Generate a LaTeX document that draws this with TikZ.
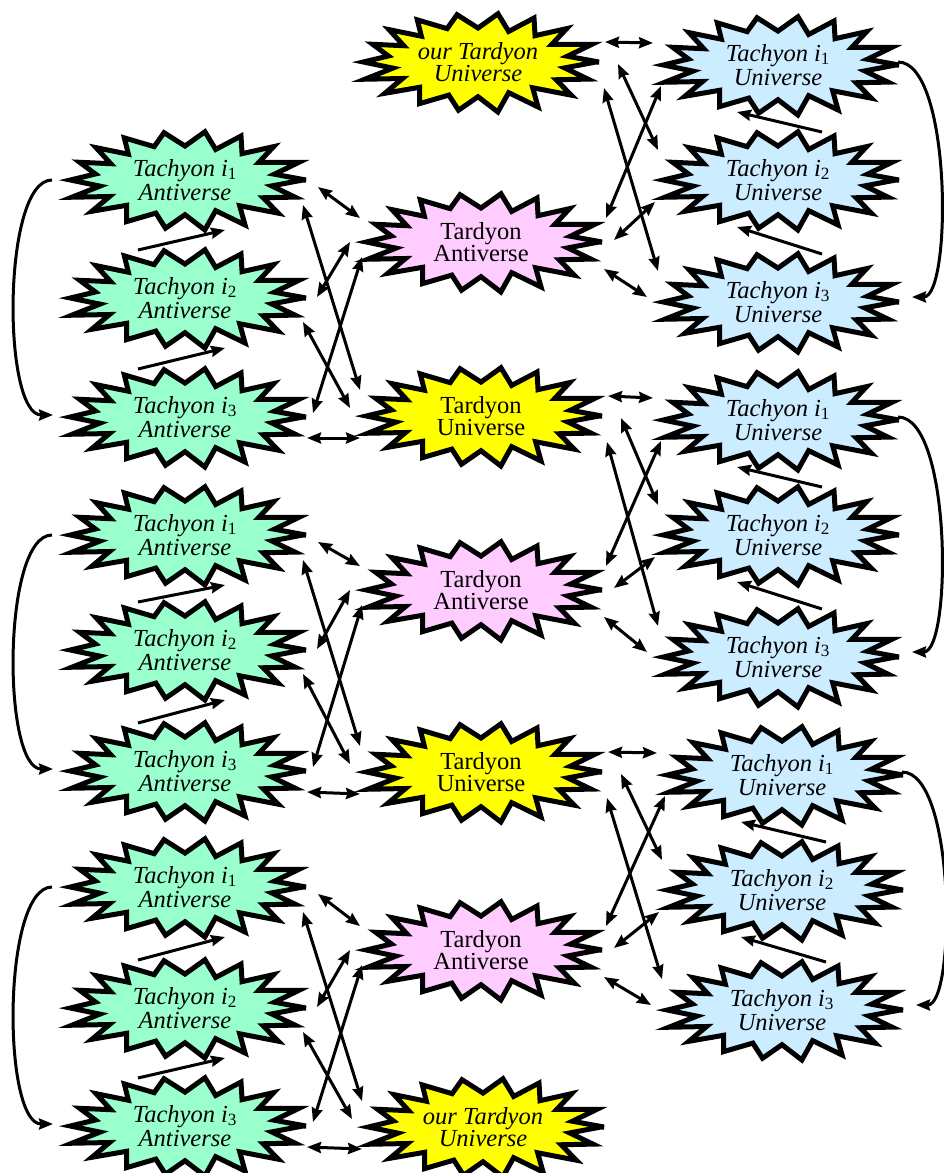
\documentclass[tikz,border=0pt]{standalone}
\usepackage{fontspec}
\setmainfont{Liberation Serif}
\usetikzlibrary{arrows.meta,calc}

\definecolor{tyellow}{RGB}{255,255,0}
\definecolor{tpink}{RGB}{255,204,255}
\definecolor{tblue}{RGB}{204,236,255}
\definecolor{tgreen}{RGB}{153,255,204}

\tikzset{
  burst/.style={draw=black, line width=5pt, line join=miter},
  label/.style={inner sep=0pt, align=center, font=\fontsize{24.5}{22}\selectfont},
  ilabel/.style={label, font=\fontsize{24.5}{22}\selectfont\itshape},
  tlabel/.style={label, font=\fontsize{24.5}{24.5}\selectfont\itshape},
  head/.tip={Stealth[length=14pt,width=11pt,inset=1.5pt]},
  link/.style={line width=3pt, head-head},
  flow/.style={line width=3pt, -head}
}
\newcommand{\sub}[1]{\textsubscript{\upshape #1}}
% explosion outline: 18 spikes between an outer and an inner ellipse
\newcommand{\explosion}[2]{%
  \filldraw[burst, fill=#2, shift={(#1)}] (0:118 and 49)
    \foreach \i in {0,...,17}{
      -- ({\i*20+10}:{88+3*sin(\i*131)} and {34+1.5*sin(\i*97)})
      -- ({\i*20+20}:{117+5*sin(\i*71)} and {50+2*sin(\i*53)})
    } -- cycle;}
% a labelled explosion: name, centre, fill, label style, text
\newcommand{\world}[5]{%
  \explosion{#2}{#3}
  \node[#4] (#1) at (#2) {#5};}

\begin{document}
\begin{tikzpicture}[x=1pt,y=-1pt]
\useasboundingbox[fill=white] (0,0) rectangle (944,1173);

% centre column: Tardyon universes and antiverses
\world{Y0}{478,62}{tyellow}{ilabel}{our Tardyon\\Universe}
\world{P0}{481,242}{tpink}{label}{Tardyon\\Antiverse}
\world{Y1}{481,416}{tyellow}{label}{Tardyon\\Universe}
\world{P1}{481,590}{tpink}{label}{Tardyon\\Antiverse}
\world{Y2}{481,772}{tyellow}{label}{Tardyon\\Universe}
\world{P2}{481,950}{tpink}{label}{Tardyon\\Antiverse}
\world{Y3}{483,1127}{tyellow}{ilabel}{our Tardyon\\Universe}

% right column: Tachyon universes
\foreach \k/\ya/\yb/\yc/\xx in {0/65/180/302/778, 1/420/535/657/778, 2/775/890/1010/782}{
  \world{B\k a}{\xx,\ya}{tblue}{tlabel}{Tachyon i\sub{1}\\Universe}
  \world{B\k b}{\xx,\yb}{tblue}{tlabel}{Tachyon i\sub{2}\\Universe}
  \world{B\k c}{\xx,\yc}{tblue}{tlabel}{Tachyon i\sub{3}\\Universe}
}

% left column: Tachyon antiverses
\foreach \k/\ya/\yb/\yc in {0/180/298/417, 1/535/650/771, 2/887/1008/1126}{
  \world{G\k a}{185,\ya}{tgreen}{tlabel}{Tachyon i\sub{1}\\Antiverse}
  \world{G\k b}{185,\yb}{tgreen}{tlabel}{Tachyon i\sub{2}\\Antiverse}
  \world{G\k c}{185,\yc}{tgreen}{tlabel}{Tachyon i\sub{3}\\Antiverse}
}

% links between a Tardyon pair and its Tachyon universes
\foreach \k in {0,1,2}{
  \draw[link] ($(Y\k)+(127,-20)$) -- ($(B\k a)+(-125,-22)$);
  \draw[link] ($(Y\k)+(140,2)$)   -- ($(B\k b)+(-120,-30)$);
  \draw[link] ($(Y\k)+(126,26)$)  -- ($(B\k c)+(-120,-31)$);
  \draw[link] ($(P\k)+(125,-24)$) -- ($(B\k a)+(-117,21)$);
  \draw[link] ($(P\k)+(133,-2)$)  -- ($(B\k b)+(-123,22)$);
  \draw[link] ($(P\k)+(123,27)$)  -- ($(B\k c)+(-131,-5)$);
  \draw[flow] ($(B\k b)+(44,-48)$) -- ($(B\k a)+(-41,47)$);
  \draw[flow] ($(B\k c)+(44,-48)$) -- ($(B\k b)+(-41,47)$);
  \draw[flow] ($(B\k a)+(120,-3)$) .. controls +(54,0) and +(40,0) .. ($(B\k c)+(134,-5)$);
}

% links between a Tardyon pair and its Tachyon antiverses
\foreach \k/\n in {0/1,1/2,2/3}{
  \draw[link] ($(G\k a)+(133,7)$)  -- ($(P\k)+(-121,-24)$);
  \draw[link] ($(G\k a)+(118,25)$) -- ($(Y\n)+(-121,-26)$);
  \draw[link] ($(G\k b)+(132,-1)$) -- ($(P\k)+(-131,0)$);
  \draw[link] ($(G\k b)+(118,24)$) -- ($(Y\n)+(-131,-8)$);
  \draw[link] ($(G\k c)+(128,-4)$) -- ($(P\k)+(-119,15)$);
  \draw[link] ($(G\k c)+(122,21)$) -- ($(Y\n)+(-121,22)$);
  \draw[flow] ($(G\k b)+(-47,-48)$) -- ($(G\k a)+(40,50)$);
  \draw[flow] ($(G\k c)+(-47,-48)$) -- ($(G\k b)+(40,50)$);
  \draw[flow] ($(G\k a)+(-133,0)$) .. controls +(-50,0) and +(-51,0) .. ($(G\k c)+(-132,-2)$);
}
\end{tikzpicture}
\end{document}
